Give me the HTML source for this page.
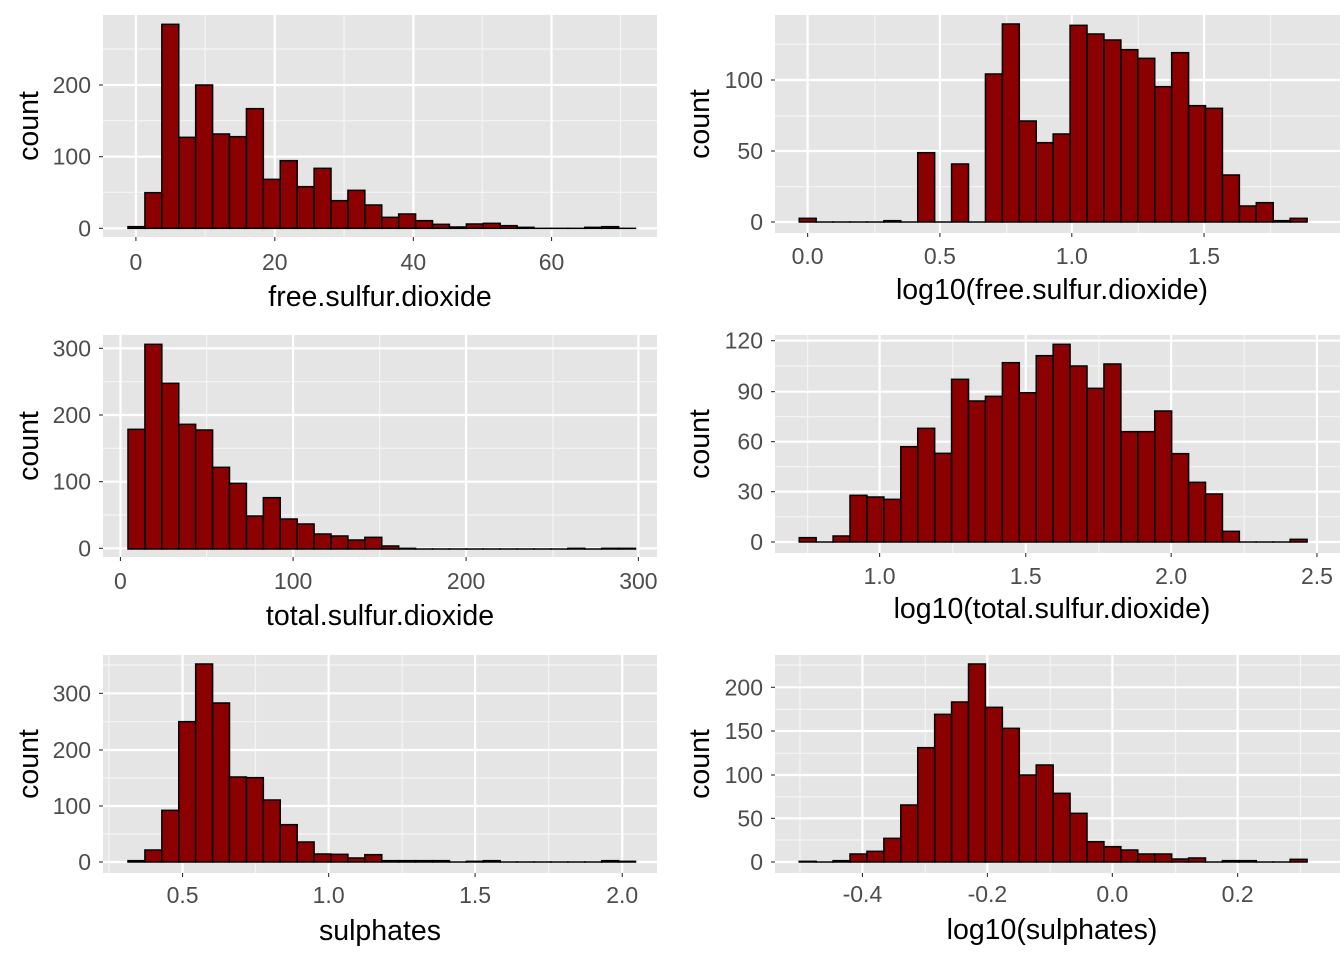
<!DOCTYPE html>
<html><head><meta charset="utf-8"><style>
html,body{margin:0;padding:0;background:#fff;}
svg text{font-family:"Liberation Sans",Arial,sans-serif;}
</style></head><body>
<svg id="s" width="1344" height="960" xmlns="http://www.w3.org/2000/svg"></svg>
<script>
const P=[
{ox:100,oy:10,sx:2.786,bx:[103,657],by:[15,237],
 vmaj:[[100,'0'],[487,'20'],[873,'40'],[1258,'60']],vmin:[293,680,1065,1450],
 hmaj:[[655,'0'],[440,'100'],[225,'200']],hmin:[547,332,117],
 e:[78,1492],base:655,t:[650,548,43,382,225,372,380,296,508,452,530,475,572,541,585,622,612,632,643,651,642,640,647,652,655,655,655,652,650,655],
 xt:'free.sulfur.dioxide',xly:270,xty:306,cx:380},
{ox:770,oy:10,sx:2.737,bx:[775,1340],by:[15,233],
 vmaj:[[103,'0.0'],[465,'0.5'],[826,'1.0'],[1188,'1.5']],vmin:[287,648,1008,1370],
 hmaj:[[636,'0'],[423,'50'],[210,'100']],hmin:[530,318,103],
 e:[80,1470],base:636,t:[625,636,636,636,636,632,636,428,636,462,636,192,42,333,398,372,46,72,90,119,145,230,128,287,295,495,588,578,632,625],
 xt:'log10(free.sulfur.dioxide)',xly:264,xty:299,cx:1052},
{ox:100,oy:330,sx:2.786,bx:[103,657],by:[335,557],
 vmaj:[[57,'0'],[538,'100'],[1020,'200'],[1500,'300']],vmin:[297,779,1262],
 hmaj:[[655,'0'],[455,'100'],[255,'200'],[55,'300']],hmin:[555,355,155],
 e:[78,1492],base:657,t:[298,43,160,283,300,412,460,558,503,567,582,612,618,630,622,648,655,657,657,657,657,657,657,657,657,657,655,657,655,655],
 xt:'total.sulfur.dioxide',xly:589,xty:625,cx:380},
{ox:770,oy:330,sx:2.737,bx:[775,1340],by:[335,553],
 vmaj:[[300,'1.0'],[700,'1.5'],[1098,'2.0'],[1497,'2.5']],vmin:[103,500,900,1298],
 hmaj:[[636,'0'],[485,'30'],[335,'60'],[185,'90'],[32,'120']],hmin:[560,410,260,108],
 e:[80,1470],base:636,t:[623,636,618,496,501,508,350,295,370,148,213,199,98,188,77,43,108,175,102,305,305,243,371,457,492,604,636,636,636,628],
 xt:'log10(total.sulfur.dioxide)',xly:584,xty:618,cx:1052},
{ox:100,oy:650,sx:2.786,bx:[103,657],by:[655,873],
 vmaj:[[230,'0.5'],[637,'1.0'],[1045,'1.5'],[1455,'2.0']],vmin:[25,433,842,1250],
 hmaj:[[636,'0'],[468,'100'],[300,'200'],[130,'300']],hmin:[552,384,215,45],
 e:[78,1492],base:636,t:[632,600,481,215,42,159,381,383,450,524,576,612,613,624,614,632,632,632,632,636,634,632,636,636,636,636,636,636,632,634],
 xt:'sulphates',xly:903,xty:940,cx:380},
{ox:770,oy:650,sx:2.737,bx:[775,1340],by:[655,873],
 vmaj:[[253,'-0.4'],[595,'-0.2'],[937,'0.0'],[1280,'0.2']],vmin:[82,425,767,1110,1452],
 hmaj:[[636,'0'],[505,'50'],[375,'100'],[243,'150'],[112,'200']],hmin:[570,440,310,178,45],
 e:[80,1470],base:636,t:[634,636,632,612,604,565,465,293,193,156,42,172,235,375,345,430,490,575,590,600,612,612,627,624,636,632,632,636,636,628],
 xt:'log10(sulphates)',xly:902,xty:939,cx:1052}
];
let h='';
for(const p of P){
 const X=z=>p.ox+z/p.sx, Y=z=>p.oy+z/3;
 const [x0,x1]=p.bx,[y0,y1]=p.by;
 h+=`<rect x="${x0}" y="${y0}" width="${x1-x0}" height="${y1-y0}" fill="#e5e5e5"/>`;
 for(const v of p.vmin){const x=X(v);if(x>x0&&x<x1)h+=`<line x1="${x}" x2="${x}" y1="${y0}" y2="${y1}" stroke="#f5f5f5" stroke-width="1.2"/>`;}
 for(const v of p.hmin){const y=Y(v);if(y>y0&&y<y1)h+=`<line x1="${x0}" x2="${x1}" y1="${y}" y2="${y}" stroke="#f5f5f5" stroke-width="1.2"/>`;}
 for(const [v,l] of p.vmaj){const x=X(v);h+=`<line x1="${x}" x2="${x}" y1="${y0}" y2="${y1}" stroke="#fff" stroke-width="2.2"/>`;
  h+=`<line x1="${x}" x2="${x}" y1="${y1}" y2="${y1+4}" stroke="#333" stroke-width="1.1"/>`;
  h+=`<text x="${x}" y="${p.xly}" font-size="23" fill="#4d4d4d" text-anchor="middle">${l}</text>`;}
 for(const [v,l] of p.hmaj){const y=Y(v);h+=`<line x1="${x0}" x2="${x1}" y1="${y}" y2="${y}" stroke="#fff" stroke-width="2.2"/>`;
  h+=`<line x1="${x0-4}" x2="${x0}" y1="${y}" y2="${y}" stroke="#333" stroke-width="1.1"/>`;
  h+=`<text x="${x0-12}" y="${y+8}" font-size="23" fill="#4d4d4d" text-anchor="end">${l}</text>`;}
 const w=(p.e[1]-p.e[0])/30;
 for(let i=0;i<30;i++){const a=X(p.e[0]+i*w),b=X(p.e[0]+(i+1)*w),t=Y(p.t[i]),bs=Y(p.base);
  h+=`<rect x="${a}" y="${t}" width="${b-a}" height="${Math.max(bs-t,0.01)}" fill="#8b0000" stroke="#000" stroke-width="1.5"/>`;}
 h+=`<text x="${p.cx}" y="${p.xty}" font-size="28.5" fill="#000" text-anchor="middle">${p.xt}</text>`;
 const cy=(y0+y1)/2;
 const ax=x0<700?38:709;
 h+=`<text x="${ax}" y="${cy}" font-size="28.5" fill="#000" text-anchor="middle" transform="rotate(-90 ${ax} ${cy})">count</text>`;
}
document.getElementById('s').innerHTML=h;
</script>
</body></html>
